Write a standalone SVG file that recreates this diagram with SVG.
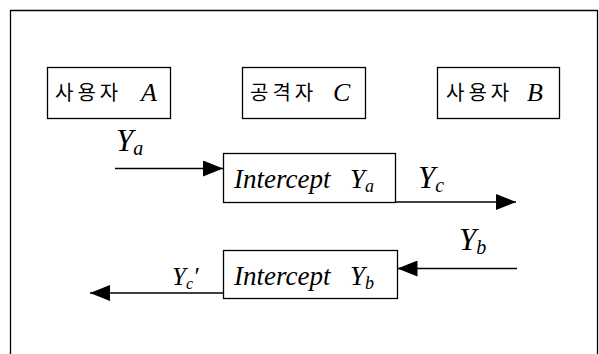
<svg xmlns="http://www.w3.org/2000/svg" width="599" height="354" viewBox="0 0 599 354">
<defs>
<style>
.box{fill:#fff;stroke:#000;stroke-width:1.3}
.ln{fill:none;stroke:#000;stroke-width:1.3}
.ko{font-family:"Noto Sans CJK KR","Liberation Serif",sans-serif;font-size:20px;fill:#000;letter-spacing:4px}
.m{font-family:"Liberation Serif",serif;font-style:italic;fill:#000}
</style>
<marker id="ah" markerWidth="20" markerHeight="16" refX="20" refY="8" orient="auto" markerUnits="userSpaceOnUse">
<path d="M0,0 L20,8 L0,16 Z" fill="#000"/>
</marker>
</defs>
<rect width="599" height="354" fill="#fff"/>
<path class="ln" d="M10.5,354 V10.5 H597.5 V354"/>
<g id="userA">
<rect class="box" x="47.5" y="67.5" width="123" height="51"/>
<text class="ko" x="55" y="100">사용자</text>
<text class="m" x="141" y="101" font-size="26">A</text>
</g>
<g id="attackerC">
<rect class="box" x="242.5" y="67.5" width="123" height="51"/>
<text class="ko" x="250" y="100">공격자</text>
<text class="m" x="333" y="101" font-size="26">C</text>
</g>
<g id="userB">
<rect class="box" x="437.5" y="67.5" width="122" height="51"/>
<text class="ko" x="446" y="100">사용자</text>
<text class="m" x="527" y="101" font-size="26">B</text>
</g>
<g id="interceptA">
<rect class="box" x="223.5" y="153.5" width="172" height="49"/>
<text class="m" x="234" y="188" font-size="27">Intercept<tspan x="350">Y</tspan><tspan font-size="18" dy="4">a</tspan></text>
</g>
<g id="interceptB">
<rect class="box" x="223.5" y="250.5" width="174" height="48"/>
<text class="m" x="234" y="285" font-size="27">Intercept<tspan x="350">Y</tspan><tspan font-size="18" dy="4">b</tspan></text>
</g>
<g id="connectors">
<line class="ln" x1="115" y1="168.5" x2="223" y2="168.5" marker-end="url(#ah)"/>
<line class="ln" x1="395.5" y1="202" x2="516" y2="202" marker-end="url(#ah)"/>
<line class="ln" x1="517" y1="268.5" x2="397.5" y2="268.5" marker-end="url(#ah)"/>
<line class="ln" x1="223" y1="293" x2="90" y2="293" marker-end="url(#ah)"/>
<text class="m" x="116" y="151" font-size="31">Y<tspan font-size="20" dy="4">a</tspan></text>
<text class="m" x="418" y="188" font-size="31">Y<tspan font-size="20" dy="4">c</tspan></text>
<text class="m" x="459" y="250" font-size="31">Y<tspan font-size="20" dy="4">b</tspan></text>
<text class="m" x="172" y="285" font-size="25">Y<tspan font-size="16" dy="4">c</tspan><tspan dy="-4">′</tspan></text>
</g>
</svg>
